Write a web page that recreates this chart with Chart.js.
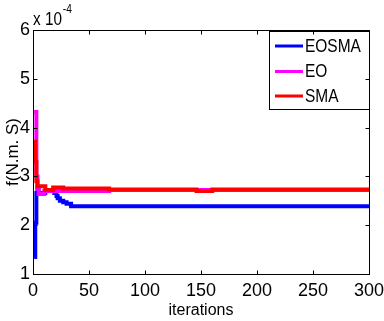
<!DOCTYPE html>
<html><head><meta charset="utf-8">
<script src="https://cdn.jsdelivr.net/npm/chart.js@4.4.0/dist/chart.umd.min.js"></script>
<style>html,body{margin:0;padding:0;background:#fff;}</style>
</head><body>
<canvas id="c" width="384" height="321"></canvas>
<script>
// ---- data (values in units of 1e-4) ----
const xTicks = [0, 50, 100, 150, 200, 250, 300];
const yTicks = [1, 2, 3, 4, 5, 6];
const seriesNames = ['EOSMA', 'EO', 'SMA'];
const eosmaIter = [1, 2, 3, 4, 5, 11, 19, 21, 22, 24, 27, 30, 34, 300];
const eosmaVal  = [1.35, 2.05, 2.66, 2.78, 2.66, 2.70, 2.66, 2.60, 2.55, 2.50, 2.47, 2.44, 2.39, 2.39];
const eoIter = [1, 3, 4, 5, 10, 68, 300];
const eoVal  = [4.32, 3.0, 2.75, 2.64, 2.70, 2.72, 2.72];
const smaIter = [1, 2, 3, 4, 11, 18, 27, 68, 146, 160, 300];
const smaVal  = [3.71, 3.3, 2.9, 2.80, 2.72, 2.77, 2.75, 2.73, 2.70, 2.73, 2.73];
const exponentBase = 'x 10';
const exponentPow = '-4';
const xTitle = 'iterations';
const yTitle = 'f(N.m. S)';

const colors = ['#0000FF', '#FF00FF', '#FF0000'];
const tickFont = {family: "'Liberation Sans Narrow', 'Arial Narrow', 'Liberation Sans', Arial, sans-serif", size: 18};
const textFam = "'Liberation Sans', Arial, sans-serif";

function pts(xs, ys) { return xs.map((x, i) => ({x: x, y: ys[i]})); }

const frameAndLegend = {
  id: 'frameAndLegend',
  afterDatasetsDraw(chart) {
    const ctx = chart.ctx, a = chart.chartArea;
    const xs = chart.scales.x, ys = chart.scales.y;
    ctx.save();
    // legend box
    const lx = 269, ly = 31, lw = 100, lh = 78;
    ctx.fillStyle = '#fff';
    ctx.fillRect(lx, ly, lw, lh);
    ctx.strokeStyle = '#000';
    ctx.lineWidth = 1;
    ctx.strokeRect(lx + 0.5, ly + 0.5, lw, lh);
    ctx.font = '18px ' + textFam;
    ctx.textBaseline = 'middle';
    ctx.textAlign = 'left';
    const rowY = [46, 71.5, 96];
    seriesNames.forEach((n, i) => {
      ctx.strokeStyle = colors[i];
      ctx.lineWidth = 3;
      ctx.beginPath();
      ctx.moveTo(275, rowY[i]); ctx.lineTo(303, rowY[i]);
      ctx.stroke();
      ctx.fillStyle = '#000';
      ctx.save();
      ctx.translate(305, rowY[i] + 1);
      ctx.scale(0.86, 1);
      ctx.fillText(n, 0, 0);
      ctx.restore();
    });
    // frame
    ctx.strokeStyle = '#000';
    ctx.lineWidth = 1;
    const L = Math.round(a.left) + 0.5, R = Math.round(a.right) + 0.5;
    const T = Math.round(a.top) + 0.5, B = Math.round(a.bottom) + 0.5;
    ctx.strokeRect(L, T, R - L, B - T);
    // inward ticks
    ctx.beginPath();
    xTicks.forEach(v => {
      const px = Math.round(xs.getPixelForValue(v)) + 0.5;
      ctx.moveTo(px, B); ctx.lineTo(px, B - 4);
      ctx.moveTo(px, T); ctx.lineTo(px, T + 4);
    });
    yTicks.forEach(v => {
      const py = Math.round(ys.getPixelForValue(v)) + 0.5;
      ctx.moveTo(L, py); ctx.lineTo(L + 4, py);
      ctx.moveTo(R, py); ctx.lineTo(R - 4, py);
    });
    ctx.stroke();
    // exponent label
    ctx.fillStyle = '#000';
    ctx.textBaseline = 'alphabetic';
    ctx.save();
    ctx.translate(33, 25);
    ctx.scale(0.85, 1);
    ctx.font = '18px ' + textFam;
    ctx.fillText(exponentBase, 0, 0);
    const w = ctx.measureText(exponentBase).width;
    ctx.font = '12px ' + textFam;
    ctx.fillText(exponentPow, w + 1, -12);
    ctx.restore();
    ctx.restore();
  }
};

new Chart(document.getElementById('c'), {
  type: 'line',
  data: {
    datasets: [
      {label: seriesNames[0], data: pts(eosmaIter, eosmaVal), borderColor: colors[0], order: 2},
      {label: seriesNames[1], data: pts(eoIter, eoVal), borderColor: colors[1], order: 1},
      {label: seriesNames[2], data: pts(smaIter, smaVal), borderColor: colors[2], order: 0}
    ].map(d => Object.assign(d, {stepped: true, borderWidth: 4, pointRadius: 0, fill: false, borderJoinStyle: 'miter', borderCapStyle: 'butt'}))
  },
  options: {
    responsive: false,
    animation: false,
    devicePixelRatio: 1,
    layout: {padding: {left: 0, right: 15, top: 30, bottom: 0}},
    plugins: {legend: {display: false}, tooltip: {enabled: false}},
    scales: {
      x: {
        type: 'linear', min: 0, max: 300,
        afterBuildTicks: s => { s.ticks = xTicks.map(v => ({value: v})); },
        afterFit: s => { s.height = 47; s.paddingLeft = 0; s.paddingRight = 0; },
        grid: {display: false, drawTicks: false},
        border: {display: false},
        ticks: {color: '#000', font: tickFont, padding: 6, maxRotation: 0, autoSkip: false, callback: v => String(v)},
        title: {display: true, text: xTitle, color: '#000', font: {family: textFam, size: 16}, padding: {top: 0, bottom: 1}}
      },
      y: {
        type: 'linear', min: 1, max: 6,
        afterBuildTicks: s => { s.ticks = yTicks.map(v => ({value: v})); },
        afterFit: s => { s.width = 33; s.paddingTop = 0; s.paddingBottom = 0; },
        grid: {display: false, drawTicks: false},
        border: {display: false},
        ticks: {color: '#000', font: tickFont, padding: 3, callback: v => String(v)},
        title: {display: true, text: yTitle, color: '#000', font: {family: textFam, size: 17}, padding: {top: 3, bottom: 0}}
      }
    }
  },
  plugins: [frameAndLegend]
});
</script>
</body></html>
